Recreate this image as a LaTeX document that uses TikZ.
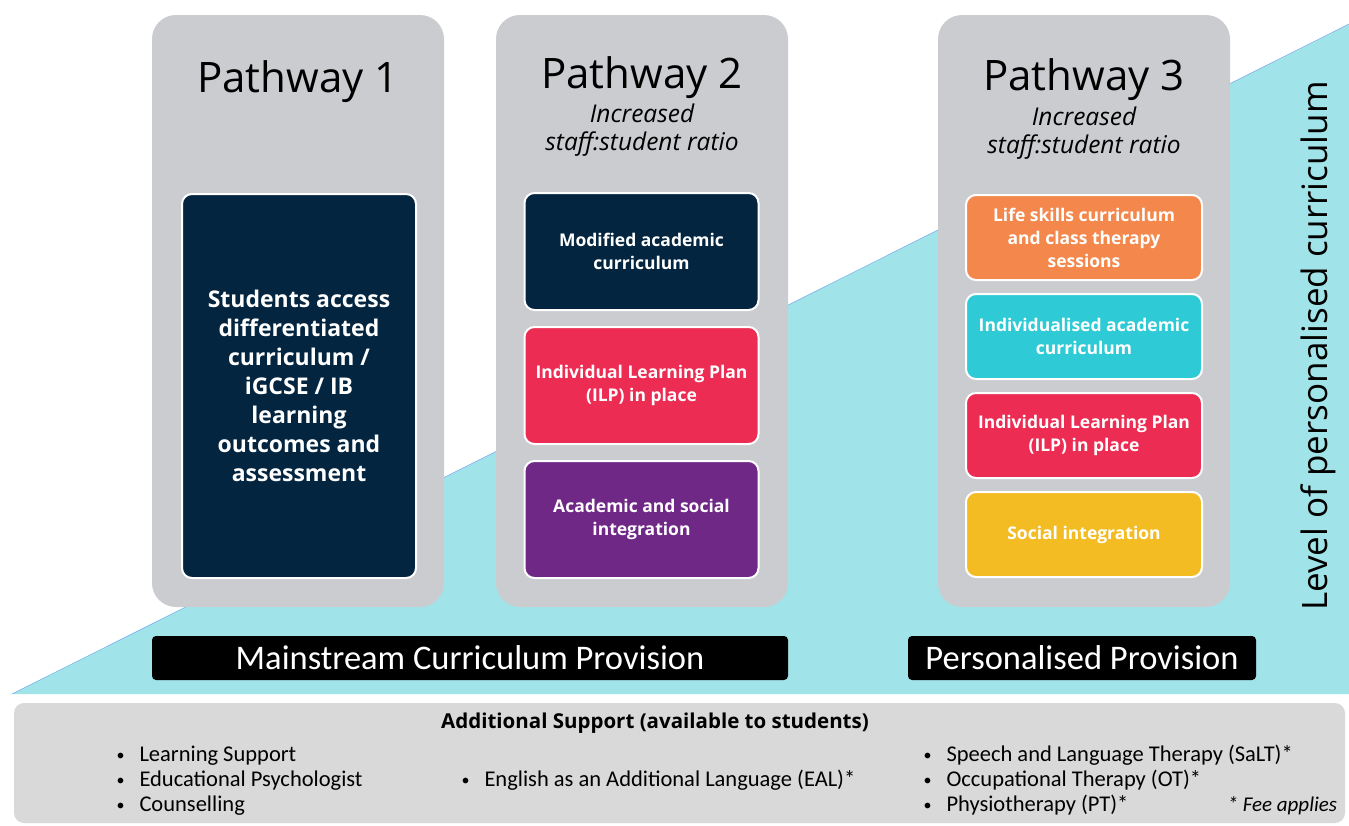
\documentclass[tikz,border=0pt]{standalone}
\usepackage{fontspec}
\setmainfont{Open Sans}
\newfontfamily\notefont{Carlito}
\usepackage{tikz}
\usetikzlibrary{positioning}
\definecolor{pathgray}{RGB}{203,204,208}
\definecolor{levelcyan}{RGB}{160,227,232}
\definecolor{navyblue}{RGB}{3,37,64}
\definecolor{ilpred}{RGB}{236,44,83}
\definecolor{mixpurple}{RGB}{112,40,135}
\definecolor{lifeorange}{RGB}{244,135,75}
\definecolor{acadteal}{RGB}{46,203,214}
\definecolor{socialyellow}{RGB}{243,188,35}
\definecolor{supportgray}{RGB}{217,217,217}
\newcommand{\dotitem}{{\fontsize{16}{16}\selectfont\raisebox{1pt}{\textbullet}}\hspace{15pt}}

\begin{document}
\begin{tikzpicture}[
    x=1pt, y=-1pt,
    node distance=14pt,
    pathbox/.style={fill=pathgray, rounded corners=24pt, minimum width=292pt, minimum height=592pt, inner sep=0pt},
    title/.style={anchor=base, font=\fontsize{42}{50}\selectfont},
    ratio/.style={anchor=base, font=\fontsize{24.5}{28}\selectfont\itshape},
    box/.style={draw=white, line width=2pt, rounded corners=10pt, minimum width=234pt, text=white, align=center, inner sep=2pt, outer sep=0pt, font=\fontsize{17.5}{23}\selectfont\bfseries},
    provision/.style={fill=black, rounded corners=4pt, minimum height=44pt, text=white, font=\notefont\fontsize{34.5}{40}\selectfont},
    item/.style={anchor=base west, font=\notefont\fontsize{22.5}{26}\selectfont}
]
    \useasboundingbox (0,0) rectangle (1349,825);

    % rising level of personalisation
    \fill[levelcyan] (12,694) -- (1349,694) -- (1349,24) -- cycle;
    \draw[levelcyan!75!blue, line width=0.5pt] (12,694) -- (1349,24);

    \node[pathbox] (path1) at (298,311) {};
    \node[pathbox] (path2) at (642,311) {};
    \node[pathbox] (path3) at (1084,311) {};

    \node[title] (p1title) at (298,92) {Pathway 1};
    \node[title] (p2title) at (642,88) {Pathway 2};
    \node[title] (p3title) at (1084,90) {Pathway 3};
    \node[ratio] (p2inc) at (642,122) {Increased};
    \node[ratio] (p2ratio) at (642,150) {staff:student ratio};
    \node[ratio] (p3inc) at (1084,125) {Increased};
    \node[ratio] (p3ratio) at (1084,153) {staff:student ratio};

    % pathway 1
    \node[box, fill=navyblue, minimum height=384pt, font=\fontsize{23}{29}\selectfont\bfseries] (p1main) at (299,386)
        {Students access\\differentiated\\curriculum /\\iGCSE / IB\\learning\\outcomes and\\assessment};

    % pathway 2
    \node[box, fill=navyblue, minimum height=117pt] (p2mod) at (641.5,251.5) {Modified academic\\curriculum};
    \node[box, fill=ilpred, minimum height=117pt, below=17pt of p2mod] (p2ilp) {Individual Learning Plan\\(ILP) in place};
    \node[box, fill=mixpurple, minimum height=117pt, below=17pt of p2ilp] (p2social) {Academic and social\\integration};

    % pathway 3
    \node[box, fill=lifeorange, minimum width=236pt, minimum height=85pt] (p3life) at (1084,237.5) {Life skills curriculum\\and class therapy\\sessions};
    \node[box, fill=acadteal, minimum width=236pt, minimum height=85pt, below=of p3life] (p3acad) {Individualised academic\\curriculum};
    \node[box, fill=ilpred, minimum width=236pt, minimum height=85pt, below=of p3acad] (p3ilp) {Individual Learning Plan\\(ILP) in place};
    \node[box, fill=socialyellow, minimum width=236pt, minimum height=85pt, below=of p3ilp] (p3social) {Social integration};

    \node[rotate=90, font=\fontsize{35}{40}\selectfont] (level) at (1318,346) {Level of personalised curriculum};

    \node[provision, minimum width=636pt] (mainstream) at (470,658) {Mainstream Curriculum Provision};
    \node[provision, minimum width=348pt] (personal) at (1082,658) {Personalised Provision};

    % additional support panel
    \node[fill=supportgray, rounded corners=10pt, minimum width=1331pt, minimum height=120pt] (support) at (679.5,763) {};
    \node[anchor=base, font=\bfseries\fontsize{20.5}{24}\selectfont] (supporttitle) at (655,728) {Additional Support (available to students)};
    \node[item] (ls) at (113,761) {\dotitem Learning Support};
    \node[item] (ep) at (113,786) {\dotitem Educational Psychologist};
    \node[item] (co) at (113,811) {\dotitem Counselling};
    \node[item] (eal) at (458,786) {\dotitem English as an Additional Language (EAL)*};
    \node[item] (salt) at (920,761) {\dotitem Speech and Language Therapy (SaLT)*};
    \node[item] (ot) at (920,786) {\dotitem Occupational Therapy (OT)*};
    \node[item] (pt) at (920,811) {\dotitem Physiotherapy (PT)*};
    \node[item, font=\notefont\itshape\fontsize{21}{26}\selectfont] (fee) at (1224,811) {* Fee applies};
\end{tikzpicture}
\end{document}
